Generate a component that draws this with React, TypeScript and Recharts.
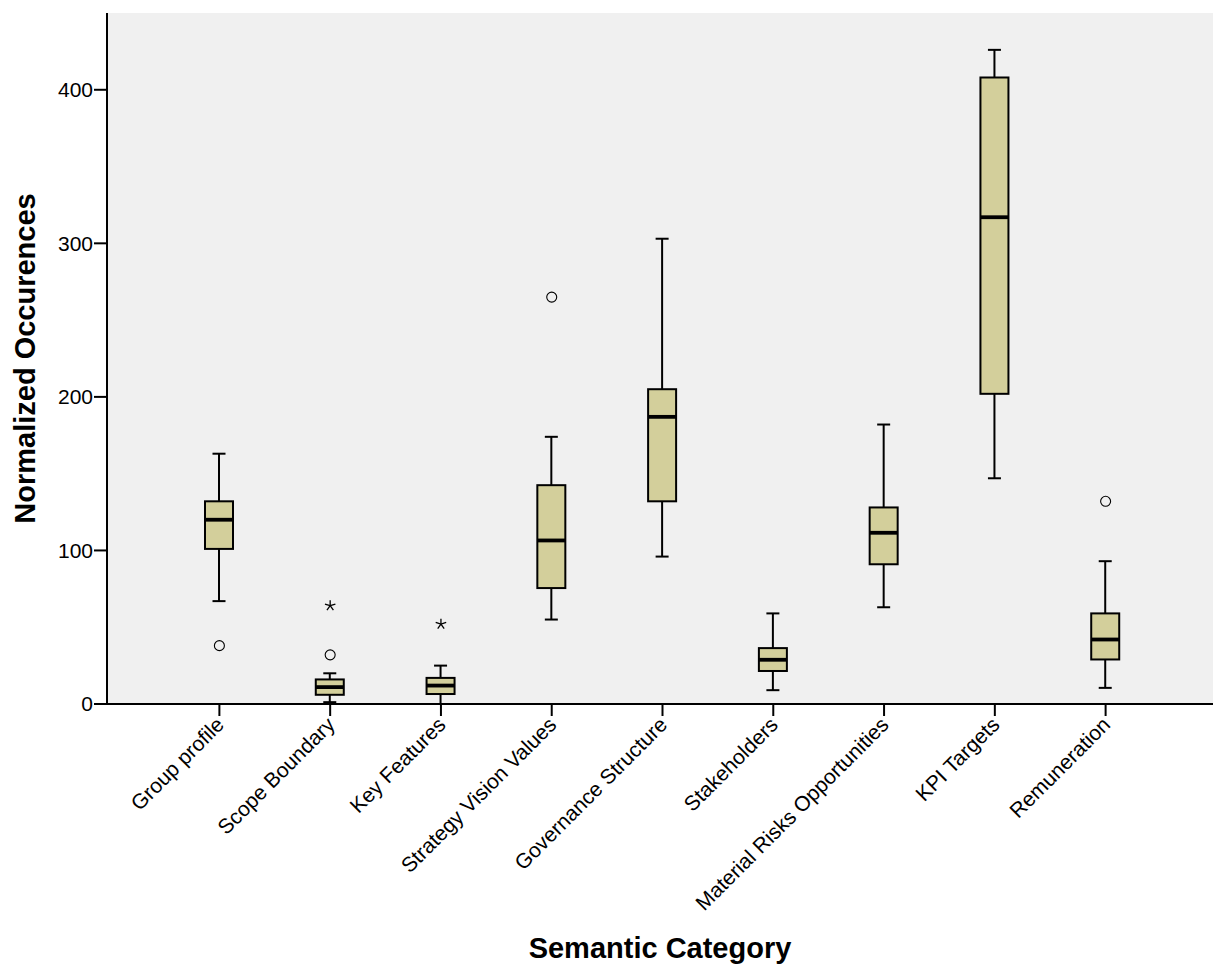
import { ComposedChart, Bar, Scatter, XAxis, YAxis, CartesianGrid } from 'recharts';

const categories = [
  'Group profile',
  'Scope Boundary',
  'Key Features',
  'Strategy Vision Values',
  'Governance Structure',
  'Stakeholders',
  'Material Risks Opportunities',
  'KPI Targets',
  'Remuneration',
];

// box plot statistics
const whiskerLow = [67, 1.2, 0, 55, 96, 9, 63, 147, 10.5];
const quartile1 = [101, 6, 6.5, 75.5, 132, 21.5, 91, 202, 29];
const medians = [120, 11, 12, 106.5, 187, 28.8, 111.5, 317, 42];
const quartile3 = [132, 16, 17, 142.5, 205, 36.4, 128, 408, 59];
const whiskerHigh = [163, 20, 25, 174, 303, 59, 182, 426, 93];
const outliers = [38, 32, null, 265, null, null, null, null, 132];
const extremes = [null, 64, 52, null, null, null, null, null, null];

const yTicks = [0, 100, 200, 300, 400];

interface BoxRow {
  name: string;
  low: number;
  q1: number;
  median: number;
  q3: number;
  high: number;
  outlier: number | null;
  extreme: number | null;
}

const data: BoxRow[] = categories.map((name, i) => ({
  name,
  low: whiskerLow[i],
  q1: quartile1[i],
  median: medians[i],
  q3: quartile3[i],
  high: whiskerHigh[i],
  outlier: outliers[i],
  extreme: extremes[i],
}));

const FONT = '"Liberation Sans", Arial, Helvetica, sans-serif';
const BOX_FILL = '#D3CF9B';
const LINE_W = 2;

const BoxShape = (props: any) => {
  const { x, y, width, height, payload } = props;
  if (!payload || height == null) return <g />;
  const top = Math.min(y, y + height);
  const h = Math.abs(height);
  // bar spans [low, high], so its geometry gives the y scale
  const ppu = h / (payload.high - payload.low);
  const py = (v: number) => top + (payload.high - v) * ppu;
  const cx = x + width / 2;
  const cap = 6.5;
  return (
    <g>
      <line x1={cx} x2={cx} y1={py(payload.high)} y2={py(payload.q3)} stroke="#000" strokeWidth={LINE_W} />
      <line x1={cx} x2={cx} y1={py(payload.q1)} y2={py(payload.low)} stroke="#000" strokeWidth={LINE_W} />
      <line x1={cx - cap} x2={cx + cap} y1={py(payload.high)} y2={py(payload.high)} stroke="#000" strokeWidth={LINE_W} />
      <line x1={cx - cap} x2={cx + cap} y1={py(payload.low)} y2={py(payload.low)} stroke="#000" strokeWidth={LINE_W} />
      <rect
        x={x}
        y={py(payload.q3)}
        width={width}
        height={py(payload.q1) - py(payload.q3)}
        fill={BOX_FILL}
        stroke="#000"
        strokeWidth={LINE_W}
      />
      <line x1={x} x2={x + width} y1={py(payload.median)} y2={py(payload.median)} stroke="#000" strokeWidth={3.8} />
    </g>
  );
};

const CircleShape = (props: any) => {
  const { cx, cy, payload } = props;
  if (!payload || payload.outlier == null || !isFinite(cy)) return <g />;
  return <circle cx={cx} cy={cy} r={5} fill="none" stroke="#000" strokeWidth={1.1} />;
};

const StarShape = (props: any) => {
  const { cx, cy, payload } = props;
  if (!payload || payload.extreme == null || !isFinite(cy)) return <g />;
  const r = 5.5;
  const arms = [0, 1, 2, 3, 4].map((k) => {
    const a = (-90 + k * 72) * (Math.PI / 180);
    return <line key={k} x1={cx} y1={cy} x2={cx + r * Math.cos(a)} y2={cy + r * Math.sin(a)} stroke="#000" strokeWidth={1.3} />;
  });
  return <g>{arms}</g>;
};

const XTick = ({ x, y, payload }: any) => {
  const tx = x + 6;
  const ty = y + 8;
  return (
    <text
      x={tx}
      y={ty}
      transform={`rotate(-45, ${tx}, ${ty})`}
      textAnchor="end"
      fontSize={21}
      fontFamily={FONT}
      fill="#000"
    >
      {payload.value}
    </text>
  );
};

const YTitle = ({ viewBox }: any) => {
  const cx = 35;
  const cy = viewBox.y + viewBox.height / 2;
  return (
    <text
      x={cx}
      y={cy}
      transform={`rotate(-90, ${cx}, ${cy})`}
      textAnchor="middle"
      fontSize={29}
      fontWeight="bold"
      fontFamily={FONT}
      fill="#000"
    >
      Normalized Occurences
    </text>
  );
};

const XTitle = ({ viewBox }: any) => {
  const cx = viewBox.x + viewBox.width / 2;
  return (
    <text x={cx} y={958} textAnchor="middle" fontSize={29} fontWeight="bold" fontFamily={FONT} fill="#000">
      Semantic Category
    </text>
  );
};

export default function App() {
  return (
    <div style={{ position: 'absolute', left: 0, top: 0, background: '#fff' }}>
      <ComposedChart width={1213} height={968} data={data} margin={{ top: 13, right: 0, left: 0, bottom: 0 }}>
        <CartesianGrid fill="#F0F0F0" fillOpacity={1} horizontal={false} vertical={false} stroke="none" />
        <XAxis
          dataKey="name"
          height={264}
          interval={0}
          padding={{ left: 57, right: 52 }}
          tickSize={12}
          tick={<XTick />}
          axisLine={{ stroke: '#000', strokeWidth: 2 }}
          tickLine={{ stroke: '#000', strokeWidth: 2 }}
          allowDuplicatedCategory={false}
          label={<XTitle />}
        />
        <XAxis
          xAxisId="top"
          orientation="top"
          dataKey="name"
          height={0}
          tick={false}
          tickLine={false}
          axisLine={{ stroke: '#000', strokeWidth: 2 }}
          allowDuplicatedCategory={false}
        />
        <YAxis
          width={107}
          domain={[0, 450]}
          ticks={yTicks}
          tickSize={13}
          tickMargin={1}
          tick={{ fill: '#000', fontSize: 21, fontFamily: FONT }}
          axisLine={{ stroke: '#000', strokeWidth: 2 }}
          tickLine={{ stroke: '#000', strokeWidth: 2 }}
          label={<YTitle />}
        />
        <Bar
          dataKey={(d: BoxRow) => [d.low, d.high]}
          barSize={28}
          shape={<BoxShape />}
          isAnimationActive={false}
        />
        <Scatter dataKey="outlier" shape={<CircleShape />} isAnimationActive={false} />
        <Scatter dataKey="extreme" shape={<StarShape />} isAnimationActive={false} />
      </ComposedChart>
    </div>
  );
}
